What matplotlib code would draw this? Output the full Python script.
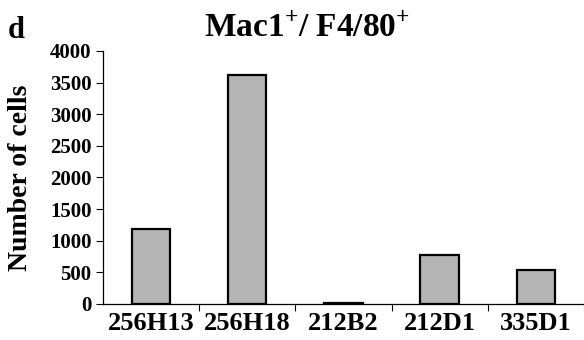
import matplotlib.pyplot as plt

clones = ["256H13", "256H18", "212B2", "212D1", "335D1"]
cells = [1190, 3620, 20, 770, 540]
yticks = [0, 500, 1000, 1500, 2000, 2500, 3000, 3500, 4000]

plt.rcParams['font.family'] = ['Liberation Serif', 'DejaVu Serif']
plt.rcParams['font.weight'] = 'bold'
plt.rcParams['mathtext.fontset'] = 'custom'
plt.rcParams['mathtext.bf'] = 'Liberation Serif:bold'
plt.rcParams['mathtext.rm'] = 'Liberation Serif:bold'

fig = plt.figure(figsize=(5.84, 3.40), dpi=100)
ax = fig.add_axes([0.176, 0.106, 0.824, 0.744])

x = list(range(len(clones)))
ax.bar(x, cells, width=0.4, color='#b4b4b4', edgecolor='black', linewidth=1.6)

ax.set_xlim(-0.5, len(clones) - 0.5)
ax.set_ylim(0, 4000)
ax.set_yticks(yticks)
ax.set_yticklabels([str(v) for v in yticks], fontsize=15, fontweight='bold')
ax.set_xticks(x)
ax.set_xticklabels(clones, fontsize=19, fontweight='bold')
ax.tick_params(axis='x', length=0, pad=6)
ax.set_xticks([i + 0.5 for i in x], minor=True)
ax.tick_params(axis='x', which='minor', length=5, width=0.8, direction='out')
ax.tick_params(axis='y', length=5, width=0.8, direction='out', pad=3)

for s in ['top', 'right']:
    ax.spines[s].set_visible(False)
for s in ['left', 'bottom']:
    ax.spines[s].set_linewidth(0.9)

ax.set_ylabel("Number of cells", fontsize=20, fontweight='bold', labelpad=12)
fig.text(0.525, 0.915, "Mac1$^{\\mathbf{+}}$/ F4/80$^{\\mathbf{+}}$", fontsize=24,
         fontweight='bold', ha='center', va='center')
fig.text(0.013, 0.91, "d", fontsize=22, fontweight='bold', ha='left', va='center')

fig.savefig("out.png", dpi=100)
